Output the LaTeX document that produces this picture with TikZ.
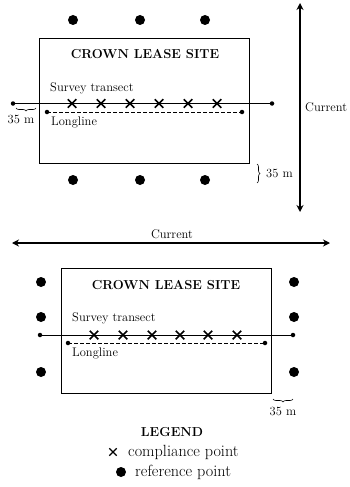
\documentclass[tikz,border=0pt]{standalone}
\usepackage{tikz}
\usetikzlibrary{calc,decorations.pathreplacing,arrows.meta,shapes.misc}

\tikzset{
  refpt/.style={circle,fill=black,inner sep=0pt,minimum size=10pt},
  endpt/.style={circle,fill=black,inner sep=0pt,minimum size=4.5pt},
  compl/.style={cross out,draw=black,line width=1.5pt,inner sep=0pt,minimum size=7pt},
  sitebox/.style={line width=0.9pt},
  brc/.style={decorate,decoration={brace,amplitude=3pt},line width=0.6pt},
  ttl/.style={font=\bfseries\fontsize{13}{15}\selectfont},
  lbl/.style={font=\fontsize{12.5}{14}\selectfont,inner sep=0pt},
  lgd/.style={font=\fontsize{16.2}{18}\selectfont,inner sep=0pt},
  curr/.style={{Stealth[length=7pt,width=7pt]}-{Stealth[length=7pt,width=7pt]},line width=1.2pt}
}

\begin{document}
\begin{tikzpicture}[x=1pt,y=-1pt]
  \useasboundingbox (0,0) rectangle (350,487);

  %top site
  \coordinate (TlA) at (39,38);
  \coordinate (TlB) at (249,163);
  \draw[sitebox] (TlA) rectangle (TlB);
  \node[ttl] (TlT) at (145,54) {CROWN LEASE SITE};

  \foreach \x in {73,140,205} {
    \node[refpt] (TlU\x) at (\x,20) {};
    \node[refpt] (TlD\x) at (\x,180) {};
  }

  %transect
  \node[endpt] (TlP) at (13,103.5) {};
  \node[endpt] (TlQ) at (272,103.5) {};
  \draw[line width=0.9pt] (TlP.center) -- (TlQ.center);
  \foreach \x in {72,101,130,159,188,217}
    \node[compl] (TlX\x) at (\x,103.5) {};
  \node[lbl,anchor=west] (TlS) at (50,88) {Survey transect};

  %longline
  \node[endpt] (TlL) at (47,112) {};
  \node[endpt] (TlM) at (242,112) {};
  \draw[dash pattern=on 3.5pt off 2.5pt,line width=0.8pt] (TlL.center) -- (TlM.center);
  \node[lbl,anchor=west] (TlN) at (51,122) {Longline};

  %35 m
  \coordinate (TlE) at (16,108);
  \coordinate (TlF) at (36,108);
  \draw[brc] (TlF) -- (TlE);
  \node[lbl] (TlG) at (21,119) {35 m};
  \coordinate (TlH) at (257,164);
  \coordinate (TlI) at (257,183);
  \draw[brc] (TlH) -- (TlI);
  \node[lbl,anchor=west] (TlJ) at (266,173) {35 m};

  %current
  \coordinate (TlC) at (300,3);
  \coordinate (TlK) at (300,212);
  \draw[curr] (TlC) -- (TlK);
  \node[lbl,anchor=west] (TlW) at (305,107) {Current};

  %bottom site
  \coordinate (BlA) at (61,268);
  \coordinate (BlB) at (271,393);
  \draw[sitebox] (BlA) rectangle (BlB);
  \node[ttl] (BlT) at (166,285) {CROWN LEASE SITE};

  \foreach \y in {282,317,372} {
    \node[refpt] (BlL\y) at (41,\y) {};
    \node[refpt] (BlR\y) at (294,\y) {};
  }

  %transect
  \node[endpt] (BlP) at (40,335) {};
  \node[endpt] (BlQ) at (293,335) {};
  \draw[line width=0.9pt] (BlP.center) -- (BlQ.center);
  \foreach \x in {94,123,152,180,208,237}
    \node[compl] (BlX\x) at (\x,335) {};
  \node[lbl,anchor=west] (BlS) at (72,318) {Survey transect};

  %longline
  \node[endpt] (BlL) at (68,343) {};
  \node[endpt] (BlM) at (265,343) {};
  \draw[dash pattern=on 3.5pt off 2.5pt,line width=0.8pt] (BlL.center) -- (BlM.center);
  \node[lbl,anchor=west] (BlN) at (72,353) {Longline};

  %35 m
  \coordinate (BlE) at (273,399);
  \coordinate (BlF) at (293,399);
  \draw[brc] (BlF) -- (BlE);
  \node[lbl] (BlG) at (283,411) {35 m};

  %current
  \coordinate (BlC) at (12,243);
  \coordinate (BlK) at (330,243);
  \draw[curr] (BlC) -- (BlK);
  \node[lbl] (BlW) at (172,234) {Current};

  %legend
  \node[ttl] (LgT) at (172,432) {LEGEND};
  \node[compl,minimum size=6pt,line width=1.3pt] (LgX) at (113,452) {};
  \node[lgd,anchor=west] (LgA) at (128,452) {compliance point};
  \node[refpt] (LgD) at (121,472) {};
  \node[lgd,anchor=west] (LgB) at (135,472) {reference point};
\end{tikzpicture}
\end{document}
